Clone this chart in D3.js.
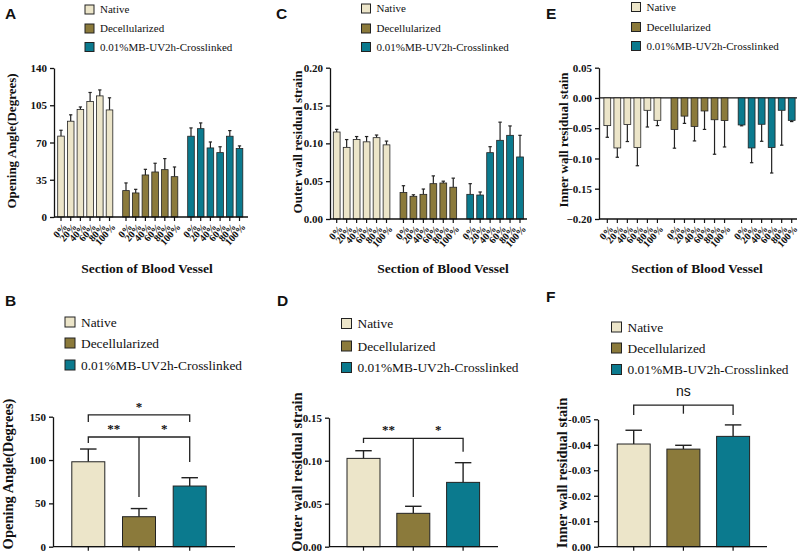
<!DOCTYPE html>
<html><head><meta charset="utf-8">
<script src="https://cdn.jsdelivr.net/npm/d3@7"></script>
<style>
body{margin:0;background:#fff;}
svg{display:block;}
</style></head>
<body><svg id="c" width="800" height="560"></svg>
<script>
// ---------- DATA ----------
const sections = ["0%","20%","40%","60%","80%","100%"];
const groups = ["Native","Decellularized","0.01%MB-UV2h-Crosslinked"];
const colors = ["#ece5c9","#8b7a3b","#0b7a8e"];

// Panel A: opening angle (degrees), mean and SD per section
const angleMean = [[76,90,101,108.5,113.8,100.6],[24.8,22.6,39.5,42.3,44.5,37.9],[75.9,83,64.9,60.5,75.9,64.3]];
const angleSD   = [[5.5,6,2.4,8.5,5.6,11.4],[7.2,3.4,5.3,8.2,10.4,9.1],[7.8,5.4,5.6,5.5,5.3,2.5]];
const angleTicks = [0,35,70,105,140];

// Panel C: outer wall residual strain
const outerMean = [[0.115,0.0947,0.105,0.102,0.1075,0.098],[0.035,0.030,0.0326,0.0467,0.0476,0.042],[0.0326,0.0317,0.0877,0.104,0.1106,0.082]];
const outerSD   = [[0.0035,0.0103,0.004,0.007,0.0035,0.005],[0.009,0.002,0.007,0.0103,0.0024,0.012],[0.0141,0.004,0.0079,0.024,0.0124,0.0286]];
const outerTicks = [0,0.05,0.10,0.15,0.20];

// Panel E: inner wall residual strain (negative)
const innerMean = [[-0.0457,-0.0826,-0.044,-0.082,-0.0204,-0.037],[-0.052,-0.030,-0.047,-0.0215,-0.036,-0.0374],[-0.0446,-0.0826,-0.0435,-0.082,-0.0204,-0.037]];
const innerSD   = [[0.0193,0.0154,0.028,0.030,0.0276,0.0087],[0.031,0.012,0.024,0.0305,0.057,0.0436],[0.0014,0.0244,0.0281,0.042,0.0576,0.002]];
const innerTicks = [-0.20,-0.15,-0.10,-0.05,0.00,0.05];

// Panels B, D, F: averages per group
const angleAvg = [98,34.6,70];       const angleAvgSD = [14.7,9.4,9.6];
const angleAvgTicks = [0,50,100,150];
const outerAvg = [0.1027,0.0388,0.0748]; const outerAvgSD = [0.0089,0.0082,0.0229];
const outerAvgTicks = [0,0.05,0.10,0.15];
const innerAvg = [0.0403,0.0383,0.0433]; const innerAvgSD = [0.0054,0.0015,0.0045];
const innerAvgTicks = [0,0.01,0.02,0.03,0.04,0.05];
const innerAvgTickLabels = ["0.00","-0.01","-0.02","-0.03","-0.04","-0.05"];

// significance brackets
const sigB = [
  {a:0,b:2,y:152,ya:144,yb:144,mid:null,label:"*",lx:1},
  {a:0,b:2,y:126.6,ya:119.6,yb:97.7,mid:57.3,labels:[["**",0.5],["*",1.5]]}
];
const sigD = [
  {a:0,b:2,y:0.126,ya:0.1206,yb:0.1105,mid:0.0578,labels:[["**",0.5],["*",1.5]]}
];
const sigF = [
  {a:0,b:2,y:0.0556,ya:0.0517,yb:0.0517,mid:0.0522,label:"ns",lx:1,sans:true}
];

// ---------- DRAW ----------
const SERIF = "'Liberation Serif','Times New Roman',Times,serif";
const SANS = "'Liberation Sans',Arial,Helvetica,sans-serif";
const svg = d3.select("#c");
const stroke = "#222";
function txt(sel, fam){ return sel.style("font-family", fam||SERIF).attr("fill","#111"); }

function legend(x, ys, fs, sq){
  groups.forEach((g,i)=>{
    svg.append("rect").attr("x",x).attr("y",ys[i]-sq/2).attr("width",sq).attr("height",sq)
      .attr("fill",colors[i]).attr("stroke",stroke).attr("stroke-width",1);
    txt(svg.append("text")).attr("x",x+sq+6).attr("y",ys[i]).attr("dy","0.35em")
      .attr("font-size",fs).text(g);
  });
}
function letter(t,x,y){
  txt(svg.append("text"),SANS).attr("x",x).attr("y",y).text(t)
    .attr("font-weight","bold").attr("font-size",15.5);
}
function yTitle(t,x,yc,fs){
  txt(svg.append("text")).attr("transform",`translate(${x},${yc}) rotate(-90)`)
    .attr("text-anchor","middle").attr("font-weight","bold").attr("font-size",fs).text(t);
}
function yAxis(y, ax, ticks, fmt, labels){
  const g = svg.append("g").attr("transform",`translate(${ax},0)`)
    .call(d3.axisLeft(y).tickValues(ticks).tickSize(4).tickSizeOuter(0)
      .tickFormat((d,i)=>labels?labels[i]:fmt(d)));
  g.selectAll("path,line").attr("stroke","#111").attr("stroke-width",1.3);
  g.selectAll("text").attr("font-size",11).attr("font-weight","bold")
    .style("font-family",SERIF).attr("fill","#111");
  return g;
}

function groupedPanel(o){
  const {means, sds, ticks, fmt, y0, y1, dom, ax0, ax1, c0, c1} = o;
  const y = d3.scaleLinear().domain(dom).range([y0,y1]);
  const slot = d3.scaleLinear().domain([0,18.4]).range([c0,c1]);
  const bw = (slot(1)-slot(0))*0.68;
  const pos = (g,i)=>slot(g*6.7+i);
  if(dom[0]<0){
    svg.append("line").attr("x1",ax0).attr("x2",ax1).attr("y1",y(0)).attr("y2",y(0))
      .attr("stroke","#111").attr("stroke-width",1.3);
  }
  means.forEach((arr,g)=>arr.forEach((v,i)=>{
    const cx = pos(g,i);
    const b = dom[0]<0?0:dom[0];
    const e = v + Math.sign(v)*sds[g][i];
    svg.append("line").attr("x1",cx).attr("x2",cx).attr("y1",y(v)).attr("y2",y(e))
      .attr("stroke",stroke).attr("stroke-width",1.2);
    svg.append("line").attr("x1",cx-bw/4).attr("x2",cx+bw/4).attr("y1",y(e)).attr("y2",y(e))
      .attr("stroke",stroke).attr("stroke-width",1.2);
    svg.append("rect").attr("x",cx-bw/2).attr("width",bw)
      .attr("y",Math.min(y(v),y(b))).attr("height",Math.abs(y(v)-y(b)))
      .attr("fill",colors[g]).attr("stroke",stroke).attr("stroke-width",0.8);
  }));
  yAxis(y, ax0, ticks, fmt);
  svg.append("line").attr("x1",ax0).attr("x2",ax1).attr("y1",y0).attr("y2",y0)
    .attr("stroke","#111").attr("stroke-width",1.3);
  means.forEach((arr,g)=>arr.forEach((v,i)=>{
    const cx = pos(g,i);
    svg.append("line").attr("x1",cx).attr("x2",cx).attr("y1",y0).attr("y2",y0+4)
      .attr("stroke","#111").attr("stroke-width",1.2);
    txt(svg.append("text")).attr("transform",`translate(${cx+4},${y0+8}) rotate(-48)`)
      .attr("text-anchor","end").attr("dy","0.35em").attr("font-size",10).attr("font-weight","bold")
      .text(sections[i]);
  }));
  txt(svg.append("text")).attr("x",o.tx).attr("y",o.ty).attr("text-anchor","middle")
    .attr("font-weight","bold").attr("font-size",13.5).text("Section of Blood Vessel");
}

function summaryPanel(o){
  const {vals, sds, ticks, fmt, labels, y0, y1, dom, ax0, ax1, c0, sp, bw, sig} = o;
  const y = d3.scaleLinear().domain(dom).range([y0,y1]);
  const x = d3.scaleLinear().domain([0,1]).range([c0,c0+sp]);
  vals.forEach((v,g)=>{
    const cx = x(g), e = v+sds[g];
    svg.append("line").attr("x1",cx).attr("x2",cx).attr("y1",y(v)).attr("y2",y(e))
      .attr("stroke",stroke).attr("stroke-width",1.4);
    svg.append("line").attr("x1",cx-bw/4).attr("x2",cx+bw/4).attr("y1",y(e)).attr("y2",y(e))
      .attr("stroke",stroke).attr("stroke-width",1.4);
    svg.append("rect").attr("x",cx-bw/2).attr("width",bw).attr("y",y(v)).attr("height",y0-y(v))
      .attr("fill",colors[g]).attr("stroke",stroke).attr("stroke-width",1);
  });
  yAxis(y, ax0, ticks, fmt, labels);
  svg.append("line").attr("x1",ax0).attr("x2",ax1).attr("y1",y0).attr("y2",y0)
    .attr("stroke","#111").attr("stroke-width",1.3);
  vals.forEach((v,g)=>{
    svg.append("line").attr("x1",x(g)).attr("x2",x(g)).attr("y1",y0).attr("y2",y0+4)
      .attr("stroke","#111").attr("stroke-width",1.2);
  });
  sig.forEach(s=>{
    const xa=x(s.a), xb=x(s.b);
    const p = [[xa,y(s.ya)],[xa,y(s.y)],[xb,y(s.y)],[xb,y(s.yb)]];
    svg.append("path").attr("d",d3.line()(p)).attr("fill","none").attr("stroke","#222").attr("stroke-width",1.3);
    if(s.mid!==null){
      const xm=x((s.a+s.b)/2);
      svg.append("line").attr("x1",xm).attr("x2",xm).attr("y1",y(s.y)).attr("y2",y(s.mid))
        .attr("stroke","#222").attr("stroke-width",1.3);
    }
    const labs = s.labels || [[s.label,s.lx]];
    labs.forEach(([t,lx])=>{
      const tx = txt(svg.append("text"), s.sans?SANS:SERIF).attr("x",x(lx)).attr("y",y(s.y)-(s.sans?9:4))
        .attr("text-anchor","middle").text(t);
      if(s.sans) tx.attr("font-size",14);
      else tx.attr("font-size",13).attr("font-weight","bold");
    });
  });
}

// --- Panel A ---
letter("A",5,19);
legend(85,[9.5,28.5,47],11,9);
groupedPanel({means:angleMean,sds:angleSD,ticks:angleTicks,fmt:d3.format("d"),
  y0:217,y1:68,dom:[0,140],ax0:54,ax1:248,c0:61,c1:239.5,tx:147,ty:273});
yTitle("Opening Angle(Degrees)",16,141,13);

// --- Panel C ---
letter("C",276,19);
legend(361.5,[8.5,28.5,47],11,9);
groupedPanel({means:outerMean,sds:outerSD,ticks:outerTicks,fmt:d3.format(".2f"),
  y0:219,y1:67.7,dom:[0,0.20],ax0:330,ax1:527,c0:336.7,c1:520,tx:443,ty:273});
yTitle("Outer wall residual strain",302,142,13);

// --- Panel E ---
letter("E",546,19);
legend(631.5,[7,27,46],11,9);
groupedPanel({means:innerMean,sds:innerSD,ticks:innerTicks,fmt:d3.format(".2f"),
  y0:219,y1:67.7,dom:[-0.20,0.05],ax0:599,ax1:797,c0:607.3,c1:791.7,tx:697,ty:273});
yTitle("Inner wall residual stain",568,140,13);

// --- Panel B ---
letter("B",5,306);
legend(65,[322,343,365],13.4,10);
summaryPanel({vals:angleAvg,sds:angleAvgSD,ticks:angleAvgTicks,fmt:d3.format("d"),
  y0:546.7,y1:416.7,dom:[0,150],ax0:53,ax1:235,c0:88.3,sp:50.7,bw:33,sig:sigB});
yTitle("Opening Angle(Degrees)",13,474,14.5);

// --- Panel D ---
letter("D",277,306);
legend(341.5,[323.5,346,367.5],13.4,10);
summaryPanel({vals:outerAvg,sds:outerAvgSD,ticks:outerAvgTicks,fmt:d3.format(".2f"),
  y0:546.7,y1:417.7,dom:[0,0.15],ax0:329,ax1:498,c0:363.5,sp:49.8,bw:33,sig:sigD});
yTitle("Outer wall residual strain",302,472,14.5);

// --- Panel F ---
letter("F",546,302);
legend(611.5,[327,348,369.5],13.4,10);
summaryPanel({vals:innerAvg,sds:innerAvgSD,ticks:innerAvgTicks,labels:innerAvgTickLabels,fmt:d3.format(".2f"),
  y0:546.7,y1:419.3,dom:[0,0.05],ax0:598,ax1:767,c0:633.7,sp:49.7,bw:33,sig:sigF});
yTitle("Inner wall residual stain",567,473,14.5);
</script></body></html>
